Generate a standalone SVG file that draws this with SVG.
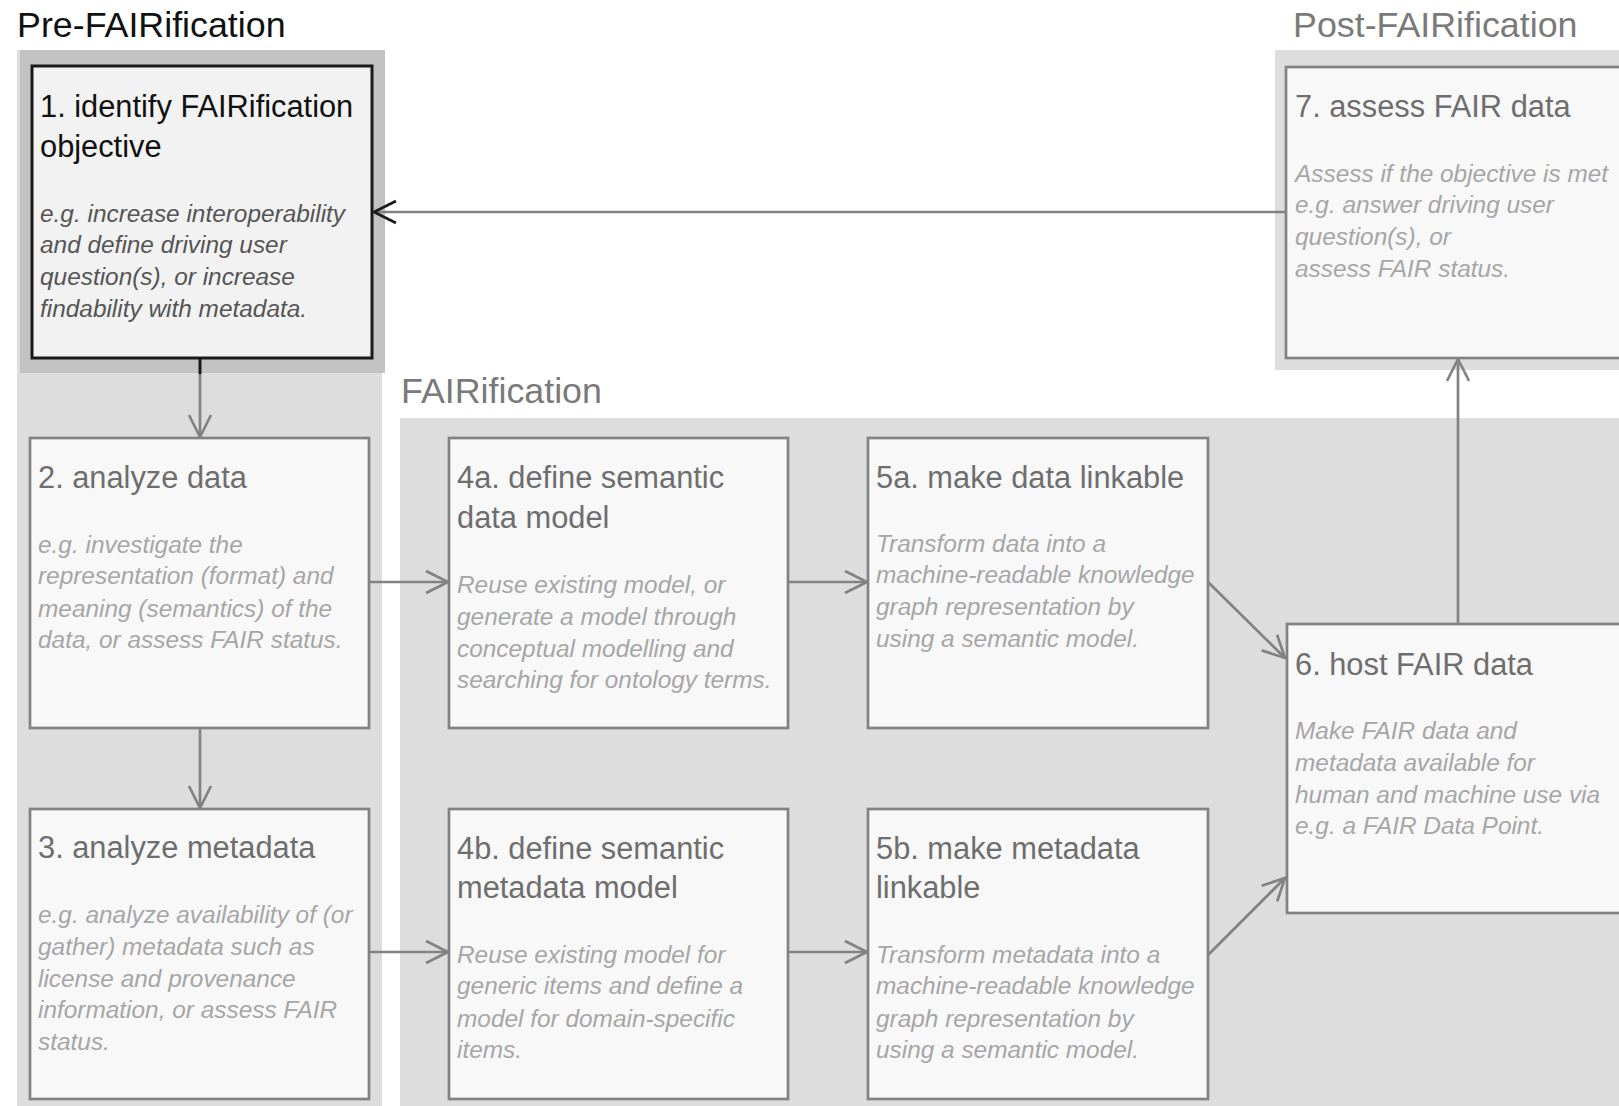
<svg xmlns="http://www.w3.org/2000/svg" width="1619" height="1106" viewBox="0 0 1619 1106">
<style>
.sec{font-family:"Liberation Sans",Arial,sans-serif;font-size:35.8px;fill:#7a7a7a}
.box{fill:#f8f8f8;stroke:#828282;stroke-width:2.7}
.t{font-family:"Liberation Sans",Arial,sans-serif;font-size:30.8px;fill:#6e6e6e}
.d{font-family:"Liberation Sans",Arial,sans-serif;font-size:24.4px;font-style:italic;fill:#a6a6a6}
.c{fill:none;stroke:#828282;stroke-width:2.7}
</style>
<defs>
<marker id="ah" markerUnits="userSpaceOnUse" viewBox="-26 -14 30 28" refX="0" refY="0" markerWidth="30" markerHeight="28" orient="auto">
<path d="M-22,-11 L0,0 L-22,11" fill="none" stroke="#828282" stroke-width="2.7"/>
</marker>
<marker id="ahd" markerUnits="userSpaceOnUse" viewBox="-26 -14 30 28" refX="0" refY="0" markerWidth="30" markerHeight="28" orient="auto">
<path d="M-22,-11 L0,0 L-22,11" fill="none" stroke="#1a1a1a" stroke-width="2.7"/>
</marker>
</defs>
<rect width="1619" height="1106" fill="#ffffff"/>
<g id="containers">
<rect x="17" y="50" width="365" height="1056" fill="#dddddd"/>
<rect x="20" y="50" width="365" height="323" fill="#c2c2c2"/>
<rect x="400" y="418" width="1219" height="688" fill="#dddddd"/>
<rect x="1275" y="50" width="344" height="320" fill="#dddddd"/>
<text class="sec" x="17" y="37" style="fill:#111111">Pre-FAIRification</text>
<text class="sec" x="401" y="403">FAIRification</text>
<text class="sec" x="1293" y="37">Post-FAIRification</text>
</g>
<g id="connectors">
<line class="c" x1="1286" y1="212" x2="374" y2="212" marker-end="url(#ahd)"/>
<line class="c" x1="200" y1="373" x2="200" y2="437" marker-end="url(#ah)"/>
<line x1="200" y1="358" x2="200" y2="374" stroke="#1a1a1a" stroke-width="3"/>
<line class="c" x1="200" y1="728" x2="200" y2="808" marker-end="url(#ah)"/>
<line class="c" x1="369" y1="582" x2="448" y2="582" marker-end="url(#ah)"/>
<line class="c" x1="788" y1="582" x2="867" y2="582" marker-end="url(#ah)"/>
<line class="c" x1="369" y1="952" x2="448" y2="952" marker-end="url(#ah)"/>
<line class="c" x1="788" y1="952" x2="867" y2="952" marker-end="url(#ah)"/>
<line class="c" x1="1208" y1="582" x2="1285" y2="658" marker-end="url(#ah)"/>
<line class="c" x1="1208" y1="955" x2="1285" y2="878" marker-end="url(#ah)"/>
<line class="c" x1="1458" y1="624" x2="1458" y2="359" marker-end="url(#ah)"/>
</g>
<g id="node1">
<rect x="32" y="66" width="340" height="292" fill="#f2f2f2" stroke="#1a1a1a" stroke-width="3"/>
<text class="t" x="40" y="117" style="fill:#111111">1. identify FAIRification</text>
<text class="t" x="40" y="157" style="fill:#111111">objective</text>
<text class="d" x="40" y="222" style="fill:#555555">e.g. increase interoperability</text>
<text class="d" x="40" y="253" style="fill:#555555">and define driving user</text>
<text class="d" x="40" y="285" style="fill:#555555">question(s), or increase</text>
<text class="d" x="40" y="317" style="fill:#555555">findability with metadata.</text>
</g>
<g id="node2">
<rect class="box" x="30" y="438" width="339" height="290"/>
<text class="t" x="38" y="488">2. analyze data</text>
<text class="d" x="38" y="553">e.g. investigate the</text>
<text class="d" x="38" y="584">representation (format) and</text>
<text class="d" x="38" y="617">meaning (semantics) of the</text>
<text class="d" x="38" y="648">data, or assess FAIR status.</text>
</g>
<g id="node3">
<rect class="box" x="30" y="809" width="339" height="290"/>
<text class="t" x="38" y="858">3. analyze metadata</text>
<text class="d" x="38" y="923">e.g. analyze availability of (or</text>
<text class="d" x="38" y="955">gather) metadata such as</text>
<text class="d" x="38" y="987">license and provenance</text>
<text class="d" x="38" y="1018">information, or assess FAIR</text>
<text class="d" x="38" y="1050">status.</text>
</g>
<g id="node4a">
<rect class="box" x="449" y="438" width="339" height="290"/>
<text class="t" x="457" y="488">4a. define semantic</text>
<text class="t" x="457" y="528">data model</text>
<text class="d" x="457" y="593">Reuse existing model, or</text>
<text class="d" x="457" y="625">generate a model through</text>
<text class="d" x="457" y="657">conceptual modelling and</text>
<text class="d" x="457" y="688">searching for ontology terms.</text>
</g>
<g id="node4b">
<rect class="box" x="449" y="809" width="339" height="290"/>
<text class="t" x="457" y="859">4b. define semantic</text>
<text class="t" x="457" y="898">metadata model</text>
<text class="d" x="457" y="963">Reuse existing model for</text>
<text class="d" x="457" y="994">generic items and define a</text>
<text class="d" x="457" y="1027">model for domain-specific</text>
<text class="d" x="457" y="1058">items.</text>
</g>
<g id="node5a">
<rect class="box" x="868" y="438" width="340" height="290"/>
<text class="t" x="876" y="488">5a. make data linkable</text>
<text class="d" x="876" y="552">Transform data into a</text>
<text class="d" x="876" y="583">machine-readable knowledge</text>
<text class="d" x="876" y="615">graph representation by</text>
<text class="d" x="876" y="647">using a semantic model.</text>
</g>
<g id="node5b">
<rect class="box" x="868" y="809" width="340" height="290"/>
<text class="t" x="876" y="859">5b. make metadata</text>
<text class="t" x="876" y="898">linkable</text>
<text class="d" x="876" y="963">Transform metadata into a</text>
<text class="d" x="876" y="994">machine-readable knowledge</text>
<text class="d" x="876" y="1027">graph representation by</text>
<text class="d" x="876" y="1058">using a semantic model.</text>
</g>
<g id="node6">
<rect class="box" x="1287" y="624" width="345" height="289"/>
<text class="t" x="1295" y="675">6. host FAIR data</text>
<text class="d" x="1295" y="739">Make FAIR data and</text>
<text class="d" x="1295" y="771">metadata available for</text>
<text class="d" x="1295" y="803">human and machine use via</text>
<text class="d" x="1295" y="834">e.g. a FAIR Data Point.</text>
</g>
<g id="node7">
<rect class="box" x="1286" y="67" width="345" height="291"/>
<text class="t" x="1295" y="117">7. assess FAIR data</text>
<text class="d" x="1295" y="182">Assess if the objective is met</text>
<text class="d" x="1295" y="213">e.g. answer driving user</text>
<text class="d" x="1295" y="245">question(s), or</text>
<text class="d" x="1295" y="277">assess FAIR status.</text>
</g>
</svg>
